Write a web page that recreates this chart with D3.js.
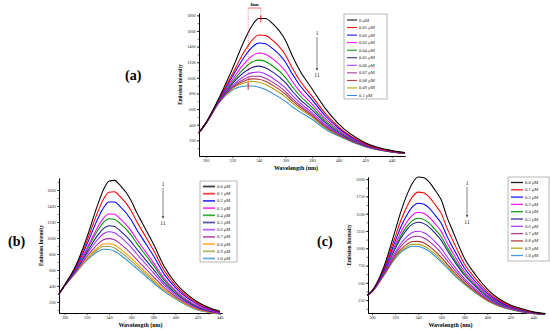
<!DOCTYPE html>
<html><head><meta charset="utf-8">
<script src="https://cdn.jsdelivr.net/npm/d3@7"></script>
<style>body{margin:0;background:#fff;overflow:hidden}text{font-family:"Liberation Serif","DejaVu Serif",serif}</style>
</head><body><svg id="chart" width="550" height="330"></svg>
<script>
// ---------- DATA ----------
const concA = ["0 μM","0.01 μM","0.02 μM","0.03 μM","0.04 μM","0.05 μM","0.06 μM","0.07 μM","0.08 μM","0.09 μM","0.1 μM"];
const concB = ["0.0 μM","0.1 μM","0.2 μM","0.3 μM","0.4 μM","0.5 μM","0.6 μM","0.7 μM","0.8 μM","0.9 μM","1.0 μM"];
const concC = concB.slice();

const xTicks = [300,320,340,360,380,400,420,440];
const yTicksA = [200,400,600,800,1000,1200,1400,1600,1800];
const yTicksB = [200,400,600,800,1000,1200,1400,1600];
const yTicksC = [250,500,750,1000,1250,1500,1750,2000];

const wavelengthA = [295,300,310,320,330,335,340,345,350,360,365,370,380,390,400,420,440,450];
const intensityA = [
 [300,420,740,1110,1510,1670,1760,1760,1700,1480,1290,1120,860,610,410,170,70,45],
 [300,418,726,1045,1362,1484,1549,1542,1485,1293,1132,989,766,546,373,158,65,42],
 [300,416,719,1014,1290,1394,1446,1435,1380,1202,1055,925,721,515,355,152,63,40],
 [300,415,710,974,1201,1281,1317,1302,1250,1088,960,846,664,477,332,145,60,38],
 [300,414,704,946,1137,1202,1227,1209,1158,1007,892,790,624,449,316,140,58,37],
 [300,413,698,923,1084,1134,1150,1129,1080,939,835,742,590,426,303,135,56,36],
 [300,412,693,899,1030,1067,1074,1050,1002,872,778,695,556,403,289,131,54,35],
 [300,412,690,883,993,1021,1021,996,948,825,738,662,532,387,280,128,53,34],
 [300,411,687,872,967,987,983,956,910,791,710,639,516,376,273,126,52,34],
 [300,411,684,860,940,953,944,916,870,757,681,615,498,364,266,124,51,33],
 [300,410,680,840,895,897,880,850,805,700,633,575,470,345,255,120,50,32]
];

const wavelengthB = [295,300,310,320,330,335,340,345,350,360,365,370,380,390,400,410,420,430,440];
const intensityB = [
 [300,410,650,1000,1420,1600,1710,1720,1660,1470,1320,1190,930,640,440,300,200,130,85],
 [300,408,636,955,1326,1482,1573,1578,1521,1344,1208,1089,852,590,408,278,184,120,79],
 [300,407,623,915,1240,1374,1449,1450,1395,1229,1107,998,781,545,379,257,170,112,74],
 [300,405,607,866,1137,1246,1300,1296,1243,1092,985,888,695,492,344,233,152,101,68],
 [300,405,600,846,1096,1193,1240,1233,1182,1036,935,844,660,470,330,223,145,97,66],
 [300,403,591,817,1035,1118,1153,1143,1093,955,864,779,611,438,310,209,135,91,62],
 [300,403,583,793,984,1053,1078,1066,1017,886,803,724,568,411,292,197,126,86,59],
 [300,402,574,765,924,978,992,977,929,806,732,661,518,380,272,182,116,80,56],
 [300,401,568,744,881,924,929,912,866,749,681,615,483,357,257,172,109,75,53],
 [300,400,564,732,856,893,893,874,828,715,651,588,462,344,249,166,104,73,52],
 [300,400,560,720,830,860,855,835,790,680,620,560,440,330,240,160,100,70,50]
];

const wavelengthC = [296,300,310,320,325,330,335,340,345,350,355,360,365,370,380,390,400,410,420,430,440,450];
const intensityC = [
 [320,385,720,1250,1530,1760,1940,2030,2020,1950,1830,1700,1450,1250,860,610,410,270,180,125,80,55],
 [320,382,694,1163,1401,1594,1742,1811,1798,1732,1623,1504,1291,1115,777,553,373,247,166,115,75,52],
 [320,379,675,1099,1308,1473,1597,1651,1635,1573,1472,1361,1175,1016,717,512,346,230,155,108,71,49],
 [320,377,659,1047,1231,1375,1479,1520,1503,1443,1348,1244,1080,936,667,478,324,217,147,102,67,47],
 [320,376,649,1012,1180,1309,1399,1433,1414,1356,1266,1165,1016,882,634,456,309,208,141,98,65,46],
 [320,375,642,990,1146,1265,1348,1376,1356,1299,1212,1114,975,846,613,441,299,202,138,96,64,45],
 [320,373,626,938,1069,1166,1229,1245,1223,1169,1088,997,880,766,563,407,277,188,129,90,60,43],
 [320,372,618,908,1026,1111,1163,1172,1149,1096,1019,931,827,720,535,388,265,180,124,87,59,42],
 [320,371,609,880,984,1056,1097,1099,1075,1024,950,867,774,676,508,369,253,173,120,83,57,41],
 [320,370,604,862,958,1024,1058,1056,1032,981,910,828,743,649,492,358,245,168,117,81,56,40],
 [320,370,600,850,940,1000,1030,1025,1000,950,880,800,720,630,480,350,240,165,115,80,55,40]
];

const colorsA = ["#000000","#ff0000","#0000ff","#ff00ff","#009000","#1f1f8f","#a030ff","#a02c9a","#b03030","#a8a000","#2f8fd0"];
const colorsB = ["#000000","#ff0000","#0000ff","#ff00ff","#009000","#1f1f8f","#a030ff","#a02c9a","#ff9900","#9c9c3c","#2f8fd0"];
const colorsC = colorsA.slice();

// ---------- DRAW ----------
const svg = d3.select("#chart");

function panel(cfg){
  const x = d3.scaleLinear().domain(cfg.xd).range(cfg.xr);
  const y = d3.scaleLinear().domain(cfg.yd).range(cfg.yr);
  const g = svg.append("g");
  const minorY = d3.range(cfg.yMinorStep, cfg.yd[1], cfg.yMinorStep).filter(v=>v>=cfg.yd[0]);
  const minorX = d3.range(310, cfg.xd[1], 20).filter(v=>v>=cfg.xd[0]);
  g.append("g").attr("transform",`translate(${cfg.xr[0]},0)`)
    .call(d3.axisLeft(y).tickValues(minorY).tickSize(1.3).tickSizeOuter(0).tickFormat(""));
  g.append("g").attr("transform",`translate(0,${cfg.yr[0]})`)
    .call(d3.axisBottom(x).tickValues(minorX).tickSize(1.3).tickSizeOuter(0).tickFormat(""));
  g.append("g").attr("transform",`translate(${cfg.xr[0]},0)`)
    .call(d3.axisLeft(y).tickValues(cfg.yTicks).tickSize(2.2).tickSizeOuter(0).tickPadding(1.2).tickFormat(d3.format("d")));
  g.append("g").attr("transform",`translate(0,${cfg.yr[0]})`)
    .call(d3.axisBottom(x).tickValues(xTicks).tickSize(2.2).tickSizeOuter(0).tickPadding(1).tickFormat(d3.format("d")));
  g.selectAll(".domain").attr("stroke","#000").attr("stroke-width",0.9);
  g.selectAll(".tick line").attr("stroke","#000").attr("stroke-width",0.6);
  g.selectAll(".tick text").attr("font-size",4.2).attr("font-family","Liberation Serif").attr("fill","#222");

  const line = d3.line().x(d=>x(d[0])).y(d=>y(d[1])).curve(d3.curveMonotoneX);
  cfg.data.slice().reverse().forEach((s,ri)=>{
    const i = cfg.data.length-1-ri;
    g.append("path").datum(cfg.w.map((w,k)=>[w,s[k]]))
      .attr("d",line).attr("fill","none").attr("stroke",cfg.colors[i]).attr("stroke-width",1.05);
  });

  g.append("text").attr("x",(cfg.xr[0]+cfg.xr[1])/2 + cfg.xlDx).attr("y",cfg.yr[0]+13.5)
    .attr("text-anchor","middle").attr("font-size",6).attr("font-weight","bold").text("Wavelength (nm)");
  g.append("text").attr("transform",`translate(${cfg.ylX},${(cfg.yr[0]+cfg.yr[1])/2})rotate(-90)`)
    .attr("text-anchor","middle").attr("font-size",5.2).attr("font-weight","bold").text(cfg.ylabel);

  g.append("text").attr("x",cfg.letter[0]).attr("y",cfg.letter[1]).attr("font-size",14)
    .attr("font-weight","bold").text(cfg.letterText);

  const L = cfg.legend;
  g.append("rect").attr("x",L.x).attr("y",L.y).attr("width",L.w).attr("height",L.h)
    .attr("fill","#fff").attr("stroke","#888").attr("stroke-width",0.6);
  cfg.labels.forEach((lab,i)=>{
    const yy = L.y + L.first + i*L.step;
    g.append("line").attr("x1",L.x+3).attr("x2",L.x+3+L.len).attr("y1",yy).attr("y2",yy)
      .attr("stroke",cfg.colors[i]).attr("stroke-width",L.sw).attr("stroke-opacity",L.op);
    g.append("text").attr("x",L.x+5+L.len).attr("y",yy+1.5).attr("font-size",4.6).attr("fill","#222").text(lab);
  });

  const A = cfg.arrow;
  g.append("text").attr("x",A[0]).attr("y",A[1]).attr("text-anchor","middle").attr("font-size",5.5).attr("fill","#111").text("1");
  g.append("line").attr("x1",A[0]).attr("x2",A[0]).attr("y1",A[1]+2).attr("y2",A[2]-2)
    .attr("stroke","#333").attr("stroke-width",0.6);
  g.append("path").attr("d",`M${A[0]-1},${A[2]-3}L${A[0]+1},${A[2]-3}L${A[0]},${A[2]}Z`).attr("fill","#333");
  g.append("text").attr("x",A[0]).attr("y",A[2]+6).attr("text-anchor","middle").attr("font-size",5.5).attr("fill","#111").text("11");
  return {x,y,g};
}

const pa = panel({xd:[295,450],xr:[199,405],yd:[0,1830],yr:[156,13],yTicks:yTicksA,yMinorStep:100,
  w:wavelengthA,data:intensityA,colors:colorsA,labels:concA,ylabel:"Emission intensity",ylX:182,xlDx:-6,
  letter:[125,80],letterText:"(a)",legend:{x:344,y:14,w:43,h:85,first:6,step:7.55,len:10,sw:1,op:1},
  arrow:[317,35,71]});
const pb = panel({xd:[295,442],xr:[59,222],yd:[62,1750],yr:[313,178],yTicks:yTicksB,yMinorStep:100,
  w:wavelengthB,data:intensityB,colors:colorsB,labels:concB,ylabel:"Emission Intensity",ylX:43,xlDx:0,
  letter:[8,246],letterText:"(b)",legend:{x:200,y:181,w:37,h:81,first:5.5,step:7.2,len:12,sw:1.8,op:0.75},
  arrow:[163,186,219]});
const pc = panel({xd:[296.5,450],xr:[368,545],yd:[63.6,2030],yr:[313,177],yTicks:yTicksC,yMinorStep:125,
  w:wavelengthC,data:intensityC,colors:colorsC,labels:concC,ylabel:"Emission Intensity",ylX:351,xlDx:-6,
  letter:[317,246],letterText:"(c)",legend:{x:508,y:177,w:41,h:84,first:5.5,step:7.3,len:12,sw:1.3,op:0.9},
  arrow:[467,185,218]});

// 8 nm shift annotation on (a)
(function(){
  const {x,y,g} = pa;
  const xp1 = x(332), xp0 = x(341.5);
  const red = "#e01010";
  g.append("line").attr("x1",xp1).attr("x2",xp1).attr("y1",8).attr("y2",y(897)).attr("stroke",red)
    .attr("stroke-width",0.5).attr("stroke-dasharray","1,1");
  g.append("line").attr("x1",xp0).attr("x2",xp0).attr("y1",8).attr("y2",y(1762)).attr("stroke",red)
    .attr("stroke-width",0.5).attr("stroke-dasharray","1,1");
  g.append("line").attr("x1",xp1).attr("x2",xp0).attr("y1",8).attr("y2",8).attr("stroke",red).attr("stroke-width",0.6);
  g.append("text").attr("x",(xp0+xp1)/2).attr("y",6).attr("text-anchor","middle").attr("font-size",4.3)
    .attr("font-weight","bold").text("8nm");
  g.append("line").attr("x1",xp0).attr("x2",xp0).attr("y1",y(1762)-3).attr("y2",y(1762)+4).attr("stroke",red).attr("stroke-width",0.9);
  g.append("line").attr("x1",xp1).attr("x2",xp1).attr("y1",y(897)-3).attr("y2",y(897)+4).attr("stroke",red).attr("stroke-width",0.9);
})();
</script></body></html>
